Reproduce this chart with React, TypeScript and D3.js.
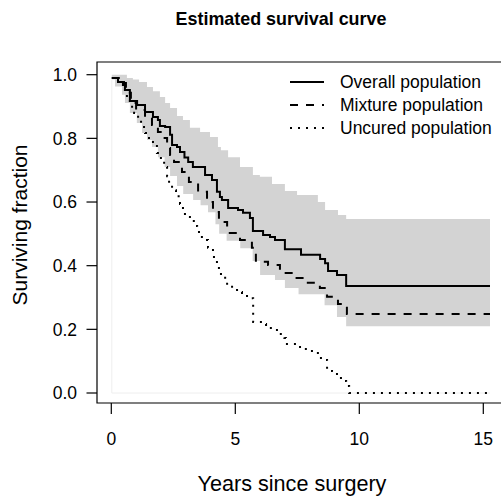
import React from "react";
import * as d3 from "d3";

const overallTime = [0.02, 0.27, 0.47, 0.55, 0.75, 1.04, 1.36, 1.68, 1.88, 1.96, 2.17, 2.37, 2.45, 2.65, 2.77, 2.95, 3.1, 3.29, 3.78, 4.06, 4.26, 4.38, 4.46, 4.71, 5.11, 5.31, 5.59, 5.71, 6.12, 6.40, 6.60, 7.00, 7.65, 8.42, 8.62, 8.74, 9.10, 9.47, 15.27];
const overallSurv = [0.99, 0.977, 0.968, 0.952, 0.917, 0.905, 0.883, 0.867, 0.858, 0.839, 0.836, 0.811, 0.779, 0.773, 0.757, 0.740, 0.726, 0.710, 0.685, 0.669, 0.632, 0.616, 0.606, 0.581, 0.575, 0.566, 0.550, 0.509, 0.496, 0.490, 0.481, 0.452, 0.434, 0.421, 0.408, 0.383, 0.371, 0.336, 0.336];

const mixtureTime = [0.02, 0.35, 0.59, 0.79, 1.00, 1.36, 1.64, 1.88, 2.08, 2.25, 2.37, 2.53, 2.85, 3.13, 3.50, 3.86, 4.10, 4.34, 4.67, 5.19, 5.67, 5.83, 6.32, 6.80, 7.33, 7.85, 8.41, 8.70, 9.14, 9.50, 15.27];
const mixtureSurv = [0.99, 0.974, 0.943, 0.911, 0.889, 0.867, 0.842, 0.820, 0.801, 0.770, 0.748, 0.726, 0.694, 0.663, 0.632, 0.600, 0.569, 0.537, 0.503, 0.481, 0.456, 0.412, 0.402, 0.377, 0.361, 0.346, 0.330, 0.302, 0.280, 0.248, 0.248];

const uncuredTime = [0.03, 0.27, 0.51, 0.63, 0.75, 0.92, 1.08, 1.20, 1.36, 1.52, 1.68, 1.84, 2.00, 2.13, 2.25, 2.33, 2.45, 2.61, 2.77, 2.89, 2.97, 3.17, 3.37, 3.46, 3.58, 3.86, 3.90, 4.10, 4.14, 4.26, 4.34, 4.54, 4.67, 4.87, 5.07, 5.27, 5.59, 5.72, 6.08, 6.24, 6.52, 6.76, 6.98, 7.04, 7.61, 7.89, 8.33, 8.62, 8.70, 8.90, 9.10, 9.26, 9.47, 9.59, 15.27];
const uncuredSurv = [0.99, 0.977, 0.952, 0.927, 0.899, 0.880, 0.858, 0.836, 0.817, 0.795, 0.776, 0.754, 0.732, 0.710, 0.681, 0.656, 0.637, 0.618, 0.594, 0.572, 0.553, 0.540, 0.525, 0.506, 0.490, 0.481, 0.456, 0.443, 0.418, 0.396, 0.374, 0.362, 0.339, 0.330, 0.317, 0.305, 0.298, 0.223, 0.217, 0.204, 0.198, 0.185, 0.173, 0.154, 0.138, 0.132, 0.110, 0.104, 0.079, 0.069, 0.053, 0.038, 0.022, 0.0, 0.0];

const upperTime = [0.02, 0.63, 0.87, 1.12, 1.44, 1.68, 1.96, 2.17, 2.37, 2.65, 2.89, 3.17, 3.58, 3.98, 4.30, 4.42, 4.71, 5.19, 5.71, 5.99, 6.48, 7.00, 7.49, 8.33, 8.62, 9.14, 9.47, 15.27];
const upperSurv = [1.0, 0.990, 0.985, 0.977, 0.961, 0.948, 0.930, 0.911, 0.895, 0.870, 0.858, 0.833, 0.820, 0.804, 0.773, 0.763, 0.741, 0.710, 0.685, 0.679, 0.657, 0.635, 0.622, 0.600, 0.575, 0.559, 0.547, 0.547];

const lowerTime = [0.02, 0.15, 0.43, 0.55, 0.75, 1.03, 1.24, 1.44, 1.64, 1.88, 2.15, 2.37, 2.65, 2.90, 3.30, 3.60, 3.90, 4.20, 4.35, 4.65, 5.20, 5.70, 6.00, 6.60, 7.00, 7.55, 8.60, 9.10, 9.47, 15.27];
const lowerSurv = [0.985, 0.963, 0.937, 0.911, 0.880, 0.848, 0.817, 0.795, 0.773, 0.741, 0.710, 0.682, 0.650, 0.625, 0.606, 0.590, 0.568, 0.530, 0.500, 0.478, 0.455, 0.415, 0.371, 0.355, 0.330, 0.310, 0.276, 0.239, 0.210, 0.210];

const xTicks = [0, 5, 10, 15];
const yTicks = [0, 0.2, 0.4, 0.6, 0.8, 1.0];
const legendLabels = ["Overall population", "Mixture population", "Uncured population"];
const legendDash = ["none", "8,8", "2,6"];

const W = 501;
const H = 496;
const FONT = "'Liberation Sans', Arial, Helvetica, sans-serif";

export default function App() {
  const x = d3.scaleLinear().domain([0, 15]).range([111.3, 483.3]);
  const y = d3.scaleLinear().domain([0, 1]).range([393, 74.7]);
  const box = { left: 97, top: 62, bottom: 403, right: 530 };

  const stepLine = d3
    .line<[number, number]>()
    .x((d) => x(d[0]))
    .y((d) => y(d[1]))
    .curve(d3.curveStepAfter);

  const zip = (t: number[], s: number[]) => t.map((v, i) => [v, s[i]] as [number, number]);

  const stepVal = (t: number[], s: number[], at: number) => {
    const i = d3.bisectRight(t, at) - 1;
    return s[Math.max(0, i)];
  };
  const allT = Array.from(new Set([...upperTime, ...lowerTime])).sort((a, b) => a - b);
  const bandData = allT.map((t) => ({
    t,
    lo: stepVal(lowerTime, lowerSurv, t),
    hi: stepVal(upperTime, upperSurv, t),
  }));
  const band = d3
    .area<{ t: number; lo: number; hi: number }>()
    .x((d) => x(d.t))
    .y0((d) => y(d.lo))
    .y1((d) => y(d.hi))
    .curve(d3.curveStepAfter);

  const tEnd = overallTime[overallTime.length - 1];

  const series = [
    { d: zip(overallTime, overallSurv), dash: legendDash[0] },
    { d: zip(mixtureTime, mixtureSurv), dash: legendDash[1] },
    { d: zip(uncuredTime, uncuredSurv), dash: legendDash[2] },
  ];

  return (
    <svg
      width={W}
      height={H}
      viewBox={`0 0 ${W} ${H}`}
      style={{ position: "absolute", left: 0, top: 0, background: "#fff" }}
      fontFamily={FONT}
    >
      <rect width={W} height={H} fill="#fff" />
      <text x={281} y={25} textAnchor="middle" fontWeight="bold" fontSize={17.9} fill="#000">
        Estimated survival curve
      </text>

      <path d={band(bandData) || ""} fill="#d3d3d3" stroke="none" />
      <path
        d={`M${x(0.02)},${y(0.985)}V${y(0)}H${x(tEnd)}`}
        fill="none"
        stroke="#eeeeee"
        strokeWidth={1}
      />

      {series.map((s, i) => (
        <path
          key={i}
          d={stepLine(s.d) || ""}
          fill="none"
          stroke="#000"
          strokeWidth={2}
          strokeDasharray={s.dash}
          strokeLinecap="butt"
        />
      ))}

      <path
        d={`M${box.right},${box.top}H${box.left}V${box.bottom}H${box.right}`}
        fill="none"
        stroke="#000"
        strokeWidth={1.2}
      />

      {yTicks.map((t) => (
        <g key={"y" + t}>
          <line x1={box.left} x2={box.left - 10.5} y1={y(t)} y2={y(t)} stroke="#000" strokeWidth={1.2} />
          <text x={77} y={y(t) + 6.3} textAnchor="end" fontSize={17.5} fill="#000">
            {t.toFixed(1)}
          </text>
        </g>
      ))}
      {xTicks.map((t) => (
        <g key={"x" + t}>
          <line x1={x(t)} x2={x(t)} y1={box.bottom} y2={box.bottom + 11} stroke="#000" strokeWidth={1.2} />
          <text x={x(t)} y={444.5} textAnchor="middle" fontSize={17.5} fill="#000">
            {t}
          </text>
        </g>
      ))}

      <text x={292} y={491} textAnchor="middle" fontSize={21.6} fill="#000">
        Years since surgery
      </text>
      <text
        transform={`translate(27,225) rotate(-90)`}
        textAnchor="middle"
        fontSize={21}
        fill="#000"
      >
        Surviving fraction
      </text>

      {legendLabels.map((lab, i) => (
        <g key={lab}>
          <line
            x1={290}
            x2={324}
            y1={82 + i * 23}
            y2={82 + i * 23}
            stroke="#000"
            strokeWidth={2}
            strokeDasharray={legendDash[i]}
          />
          <text x={340} y={82 + i * 23 + 6} fontSize={17.5} fill="#000">
            {lab}
          </text>
        </g>
      ))}
    </svg>
  );
}
